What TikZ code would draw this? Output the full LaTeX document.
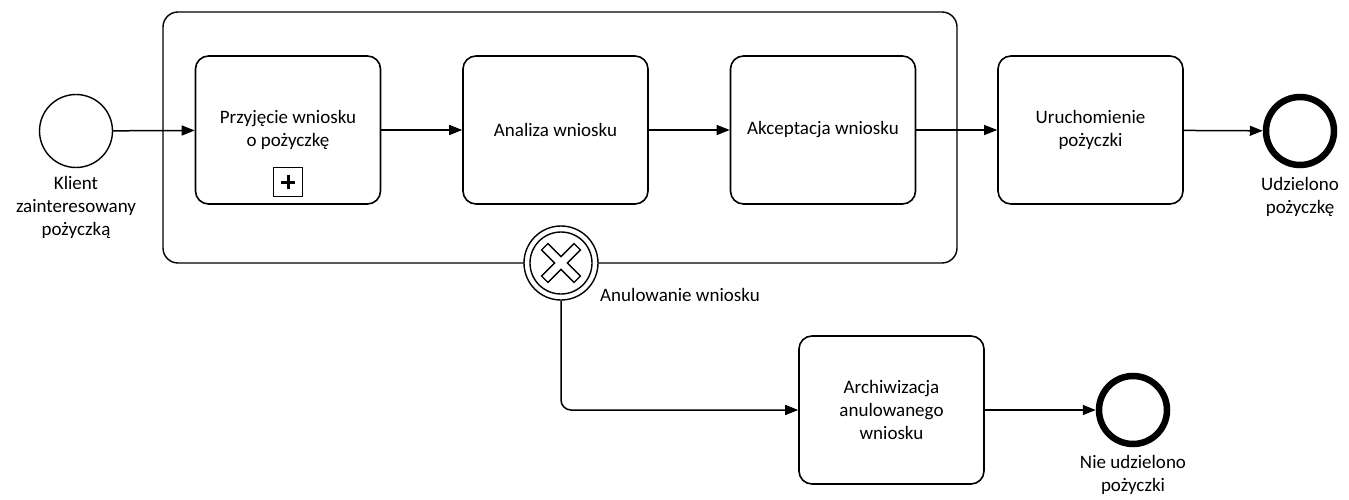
\documentclass[tikz,border=0pt]{standalone}
\usepackage{fontspec}
\setmainfont{Carlito}
\usetikzlibrary{arrows.meta}
\tikzset{
  task/.style={draw, line width=1.6pt, rounded corners=13pt, minimum width=185pt, minimum height=148pt, align=center, inner sep=0pt},
  flow/.style={line width=1.5pt, -{Triangle[length=13pt,width=10pt]}},
  startev/.style={draw, circle, line width=1.4pt, minimum size=73pt, inner sep=0pt},
  endev/.style={draw, circle, line width=6.5pt, minimum size=68pt, inner sep=0pt},
  lbl/.style={align=center, inner sep=0pt},
}
\begin{document}
\begin{tikzpicture}[x=1pt,y=-1pt, font=\fontsize{19}{23}\selectfont]
\useasboundingbox (0,0) rectangle (1349,500);
% subprocess
\draw[line width=1.4pt, rounded corners=15pt] (163,12) rectangle (957,263);
% nodes
\node[startev] (start) at (76,131) {};
\node[lbl, anchor=north] (startl) at (76,176) {Klient\\zainteresowany\\pożyczką};
\node[task] (t1) at (288,130) {Przyjęcie wniosku\\o pożyczkę};
\node[draw, line width=1.2pt, minimum size=29pt, inner sep=0pt] (plus) at (288,182) {};
\fill (281,180.5) rectangle (295,183.5);
\fill (286.5,175) rectangle (289.5,189);
\node[task] (t2) at (555.5,130) {Analiza wniosku};
\node[task] (t3) at (823,130) {Akceptacja wniosku};
\node[task] (t4) at (1090.5,130) {Uruchomienie\\pożyczki};
\node[endev] (end1) at (1300,131) {};
\node[lbl, anchor=north] (end1l) at (1300,177) {Udzielono\\pożyczkę};
\node[task] (t5) at (891.5,410) {Archiwizacja\\anulowanego\\wniosku};
\node[endev] (end2) at (1133,410) {};
\node[lbl, anchor=north] (end2l) at (1133,455) {Nie udzielono\\pożyczki};
% boundary event
\node[draw, circle, fill=white, line width=1.4pt, minimum size=74pt, inner sep=0pt] (bnd) at (561,263) {};
\node[draw, circle, line width=1.4pt, minimum size=62pt, inner sep=0pt] (bndin) at (561,263) {};
\begin{scope}[shift={(561,263)}, rotate=45]
\draw[line width=1.3pt, fill=white] (-4.5,23) -- (4.5,23) -- (4.5,4.5) -- (23,4.5) -- (23,-4.5) -- (4.5,-4.5) -- (4.5,-23) -- (-4.5,-23) -- (-4.5,-4.5) -- (-23,-4.5) -- (-23,4.5) -- (-4.5,4.5) -- cycle;
\end{scope}
\node[lbl, anchor=west] (bndl) at (600,295) {Anulowanie wniosku};
% flows
\draw[flow] (start) -- (t1);
\draw[flow] (t1) -- (t2);
\draw[flow] (t2) -- (t3);
\draw[flow] (t3) -- (t4);
\draw[flow] (t4) -- (end1);
\draw[flow, rounded corners=10pt] (bnd.south) |- (t5.west);
\draw[flow] (t5) -- (end2);
\end{tikzpicture}
\end{document}
